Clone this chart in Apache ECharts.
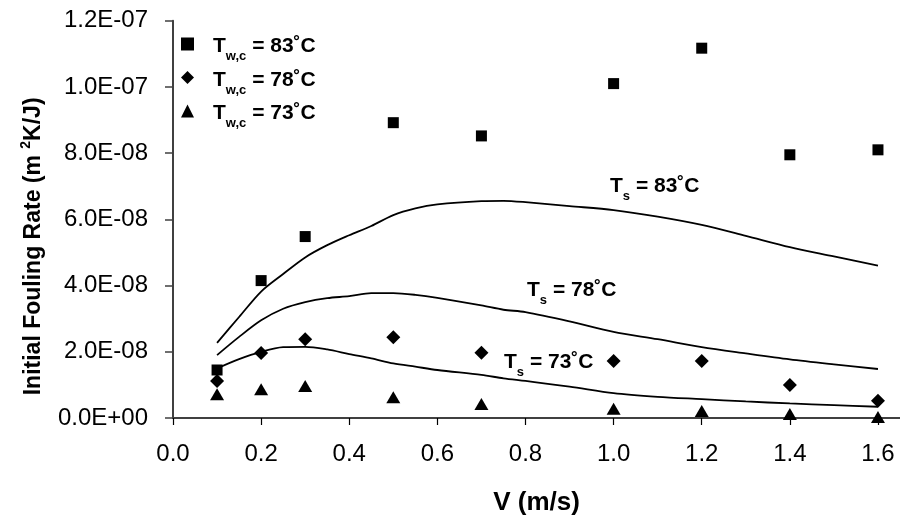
<!DOCTYPE html>
<html>
<head>
<meta charset="utf-8">
<script src="https://cdn.jsdelivr.net/npm/echarts@6/dist/echarts.min.js"></script>
<style>
html,body{margin:0;padding:0;background:#fff;}
#chart{width:900px;height:521px;}
</style>
</head>
<body>
<div id="chart"></div>
<script>
// Measured data points (V in m/s, initial fouling rate in m2K/J)
const velocity = [0.1, 0.2, 0.3, 0.5, 0.7, 1.0, 1.2, 1.4, 1.6];
const rateTw83 = [1.45e-8, 4.15e-8, 5.48e-8, 8.92e-8, 8.52e-8, 1.01e-7, 1.117e-7, 7.95e-8, 8.1e-8];
const rateTw78 = [1.12e-8, 1.96e-8, 2.38e-8, 2.44e-8, 1.97e-8, 1.72e-8, 1.72e-8, 1.0e-8, 0.52e-8];
const rateTw73 = [0.72e-8, 0.87e-8, 0.97e-8, 0.63e-8, 0.42e-8, 0.28e-8, 0.21e-8, 0.12e-8, 0.03e-8];

// Model curves
const modelV = [0.1, 0.15, 0.2, 0.25, 0.3, 0.35, 0.4, 0.45, 0.5, 0.55, 0.6, 0.7, 0.75, 0.8, 0.9, 1.0, 1.1, 1.2, 1.3, 1.4, 1.5, 1.6];
const modelTs83 = [2.27, 3.05, 3.82, 4.35, 4.85, 5.22, 5.52, 5.80, 6.13, 6.33, 6.45, 6.55, 6.56, 6.52, 6.40, 6.28, 6.08, 5.83, 5.50, 5.16, 4.88, 4.60].map(v => v * 1e-8);
const modelTs78 = [1.90, 2.45, 2.95, 3.30, 3.50, 3.62, 3.68, 3.77, 3.77, 3.72, 3.63, 3.40, 3.27, 3.20, 2.92, 2.60, 2.38, 2.14, 1.95, 1.77, 1.62, 1.48].map(v => v * 1e-8);
const modelTs73 = [1.50, 1.78, 2.00, 2.14, 2.15, 2.07, 1.93, 1.80, 1.65, 1.55, 1.45, 1.30, 1.20, 1.12, 0.95, 0.75, 0.64, 0.57, 0.50, 0.44, 0.39, 0.34].map(v => v * 1e-8);

// Labels
const legendTemps = {Tw83: '83˚C', Tw78: '78˚C', Tw73: '73˚C'};
const xTickLabels = ['0.0', '0.2', '0.4', '0.6', '0.8', '1.0', '1.2', '1.4', '1.6'];
const yTickLabels = ['0.0E+00', '2.0E-08', '4.0E-08', '6.0E-08', '8.0E-08', '1.0E-07', '1.2E-07'];
const curveLabels = ['83˚C', '78˚C', '73˚C'];

const FONT = "'Liberation Sans', Arial, sans-serif";
const chart = echarts.init(document.getElementById('chart'), null, {renderer: 'canvas'});

function pairs(xs, ys) { return xs.map((x, i) => [x, ys[i]]); }

const richT = {
  tf: {fontFamily: FONT, fontSize: 21, fontWeight: 'bold', color: '#000', lineHeight: 16, verticalAlign: 'top', padding: [0, 0, 0, 14]},
  t: {fontFamily: FONT, fontSize: 21, fontWeight: 'bold', color: '#000', lineHeight: 16, verticalAlign: 'top'},
  sub: {fontFamily: FONT, fontSize: 13, fontWeight: 'bold', color: '#000', lineHeight: 14, verticalAlign: 'top', padding: [14, 0, 0, 0]}
};

const lineStyleModel = {color: '#000', width: 1.8};
const markStyle = {color: '#000', opacity: 1};

const option = {
  animation: false,
  backgroundColor: '#fff',
  textStyle: {fontFamily: FONT},
  grid: {left: 173, right: 0, top: 20.7, bottom: 103, containLabel: false},
  legend: {
    orient: 'vertical', left: 176, top: 31, itemGap: 6.5,
    itemWidth: 13, itemHeight: 13,
    itemStyle: {color: '#000', opacity: 1},
    data: [
      {name: 'Tw83', icon: 'rect', itemStyle: {color: '#000', opacity: 1}},
      {name: 'Tw78', icon: 'diamond', itemStyle: {color: '#000', opacity: 1}},
      {name: 'Tw73', icon: 'triangle', itemStyle: {color: '#000', opacity: 1}}
    ],
    formatter: name => '{tf|T}{sub|w,c}{t| = ' + legendTemps[name] + '}',
    textStyle: {rich: richT},
    selectedMode: false
  },
  xAxis: [{
    type: 'value', min: 0, max: 1.65, interval: 0.2,
    name: 'V (m/s)', nameLocation: 'middle', nameGap: 72,
    nameTextStyle: {fontFamily: FONT, fontSize: 26, fontWeight: 'bold', color: '#000'},
    axisLine: {show: true, onZero: false, lineStyle: {color: '#000', width: 1.5}},
    axisTick: {show: true, inside: false, length: 7, lineStyle: {color: '#000', width: 1.2}},
    axisLabel: {fontFamily: FONT, fontSize: 24, color: '#000', margin: 24, showMaxLabel: false,
      formatter: v => xTickLabels[Math.round(v / 0.2)] || ''},
    splitLine: {show: false}
  }, {
    type: 'value', min: 0, max: 1.65, position: 'top',
    axisLine: {show: true, lineStyle: {color: '#404040', width: 2}},
    axisTick: {show: false}, axisLabel: {show: false}, splitLine: {show: false}
  }],
  yAxis: {
    type: 'value', min: 0, max: 1.2e-7, interval: 2e-8,
    name: '{n|Initial Fouling Rate (m }{sup|2}{n|K/J)}',
    nameLocation: 'middle', nameGap: 128,
    nameTextStyle: {
      padding: [0, 54, 0, 0],
      rich: {
        n: {fontFamily: FONT, fontSize: 23, fontWeight: 'bold', color: '#000', lineHeight: 26, verticalAlign: 'bottom'},
        sup: {fontFamily: FONT, fontSize: 14, fontWeight: 'bold', color: '#000', lineHeight: 14, verticalAlign: 'top'}
      }
    },
    axisLine: {show: true, lineStyle: {color: '#404040', width: 2}},
    axisTick: {show: true, inside: false, length: 8, lineStyle: {color: '#404040', width: 1.5}},
    axisLabel: {fontFamily: FONT, fontSize: 24, color: '#000', margin: 25,
      formatter: v => yTickLabels[Math.round(v / 2e-8)] || ''},
    splitLine: {show: false}
  },
  series: [
    {type: 'line', name: 'modelTs83', data: pairs(modelV, modelTs83), showSymbol: false, smooth: 0.3, lineStyle: lineStyleModel, z: 2},
    {type: 'line', name: 'modelTs78', data: pairs(modelV, modelTs78), showSymbol: false, smooth: 0.3, lineStyle: lineStyleModel, z: 2},
    {type: 'line', name: 'modelTs73', data: pairs(modelV, modelTs73), showSymbol: false, smooth: 0.3, lineStyle: lineStyleModel, z: 2},
    {type: 'scatter', name: 'Tw83', data: pairs(velocity, rateTw83), symbol: 'rect', symbolSize: 11, itemStyle: markStyle, z: 3},
    {type: 'scatter', name: 'Tw78', data: pairs(velocity, rateTw78), symbol: 'diamond', symbolSize: 14, itemStyle: markStyle, z: 3},
    {type: 'scatter', name: 'Tw73', data: pairs(velocity, rateTw73), symbol: 'triangle', symbolSize: [14, 12], itemStyle: markStyle, z: 3}
  ],
  graphic: [
    {type: 'text', left: 610, top: 176, style: {text: '{t|T}{sub|s}{t| = ' + curveLabels[0] + '}', rich: richT}},
    {type: 'text', left: 527, top: 280, style: {text: '{t|T}{sub|s}{t| = ' + curveLabels[1] + '}', rich: richT}},
    {type: 'text', left: 504, top: 352, style: {text: '{t|T}{sub|s}{t| = ' + curveLabels[2] + '}', rich: richT}}
  ]
};
chart.setOption(option);
</script>
</body>
</html>
